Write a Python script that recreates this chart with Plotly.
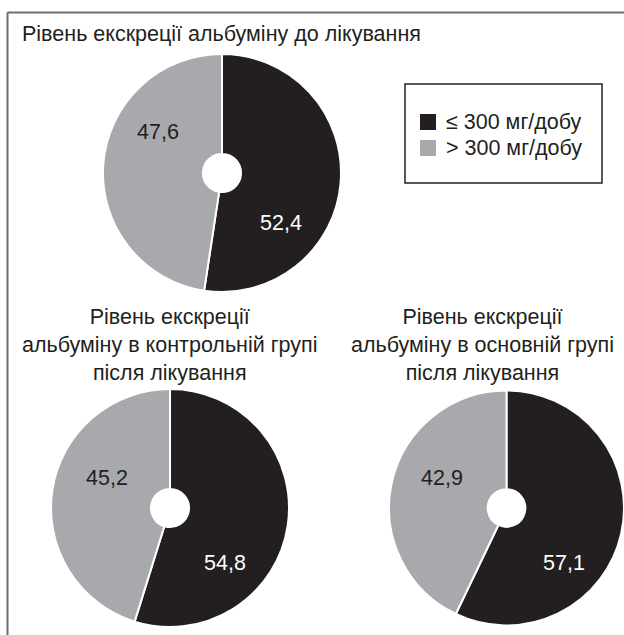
import plotly.graph_objects as go

# ---------------- data ----------------
categories = ["≤ 300 мг/добу", "> 300 мг/добу"]
before_values = [52.4, 47.6]
control_after_values = [54.8, 45.2]
main_after_values = [57.1, 42.9]
titles = [
    "Рівень екскреції альбуміну до лікування",
    "Рівень екскреції<br>альбуміну в контрольній групі<br>після лікування",
    "Рівень екскреції<br>альбуміну в основній групі<br>після лікування",
]

# ---------------- style ----------------
W, H = 624, 635
FONT = "Liberation Sans, Arial, sans-serif"
TEXT = "#231f20"
slice_colors = ["#231f20", "#a7a9ac"]
label_colors = ["#ffffff", "#231f20"]
FS = 21.5


def px(x):
    return x / W


def py(y):
    return 1 - y / H


# pie boxes in pixels: (left, top, right, bottom)
boxes = [
    (103, 54, 341, 292),
    (51, 389, 289, 627),
    (389, 389, 624, 627),
]
# label offsets (pixels from pie centre) for [dark, light]
label_offsets = [
    [(59, 50), (-64, -41)],
    [(55, 55), (-63, -30)],
    [(57, 55), (-65, -30)],
]

series = [before_values, control_after_values, main_after_values]

fig = go.Figure()
annotations = []
for i, vals in enumerate(series):
    l, t, r, b = boxes[i]
    fig.add_trace(go.Pie(
        labels=categories,
        values=vals,
        sort=False,
        direction="clockwise",
        rotation=0,
        hole=0.16,
        marker=dict(colors=slice_colors, line=dict(color="white", width=2)),
        textinfo="none",
        hoverinfo="label+value",
        showlegend=False,
        domain=dict(x=[px(l), px(r)], y=[py(b), py(t)]),
    ))
    cx = (l + r) / 2
    cy = (t + b) / 2
    for j, v in enumerate(vals):
        dx, dy = label_offsets[i][j]
        annotations.append(dict(
            x=px(cx + dx), y=py(cy + dy), xref="paper", yref="paper",
            text=f"{v:.1f}".replace(".", ","), showarrow=False,
            font=dict(family=FONT, size=FS, color=label_colors[j]),
            xanchor="center", yanchor="middle",
        ))

# titles
annotations.append(dict(
    x=px(20), y=py(34), xref="paper", yref="paper", text=titles[0],
    showarrow=False, xanchor="left", yanchor="middle", align="left",
    font=dict(family=FONT, size=FS, color=TEXT),
))
annotations.append(dict(
    x=px(169), y=py(345), xref="paper", yref="paper", text=titles[1],
    showarrow=False, xanchor="center", yanchor="middle", align="center",
    font=dict(family=FONT, size=FS, color=TEXT),
))
annotations.append(dict(
    x=px(482), y=py(345), xref="paper", yref="paper", text=titles[2],
    showarrow=False, xanchor="center", yanchor="middle", align="center",
    font=dict(family=FONT, size=FS, color=TEXT),
))

shapes = [
    # frame (top and left edges)
    dict(type="line", xref="paper", yref="paper", x0=px(7.5), x1=1, y0=py(12.5), y1=py(12.5),
         line=dict(color="#6d6e71", width=2)),
    dict(type="line", xref="paper", yref="paper", x0=px(7.5), x1=px(7.5), y0=py(12.5), y1=0,
         line=dict(color="#6d6e71", width=2)),
    # legend box
    dict(type="rect", xref="paper", yref="paper", x0=px(405), x1=px(602), y0=py(183), y1=py(84),
         line=dict(color="#231f20", width=1.5), fillcolor="rgba(0,0,0,0)"),
]

# legend entries (key squares + labels), built from categories / colours
legend_rows_y = [122, 148]
for k, cat in enumerate(categories):
    yc = legend_rows_y[k]
    shapes.append(dict(
        type="rect", xref="paper", yref="paper",
        x0=px(420), x1=px(436), y0=py(yc + 8), y1=py(yc - 8),
        line=dict(width=0), fillcolor=slice_colors[k],
    ))
    annotations.append(dict(
        x=px(444), y=py(yc), xref="paper", yref="paper", text=cat,
        showarrow=False, xanchor="left", yanchor="middle",
        font=dict(family=FONT, size=FS, color=TEXT),
    ))

fig.update_layout(
    width=W, height=H,
    margin=dict(l=0, r=0, t=0, b=0),
    paper_bgcolor="white", plot_bgcolor="white",
    font=dict(family=FONT, color=TEXT),
    showlegend=False,
    annotations=annotations,
    shapes=shapes,
)

fig.write_html(
    "out.html",
    config={"displayModeBar": False},
    post_script="document.body.style.margin='0';document.body.style.overflow='hidden';",
)
